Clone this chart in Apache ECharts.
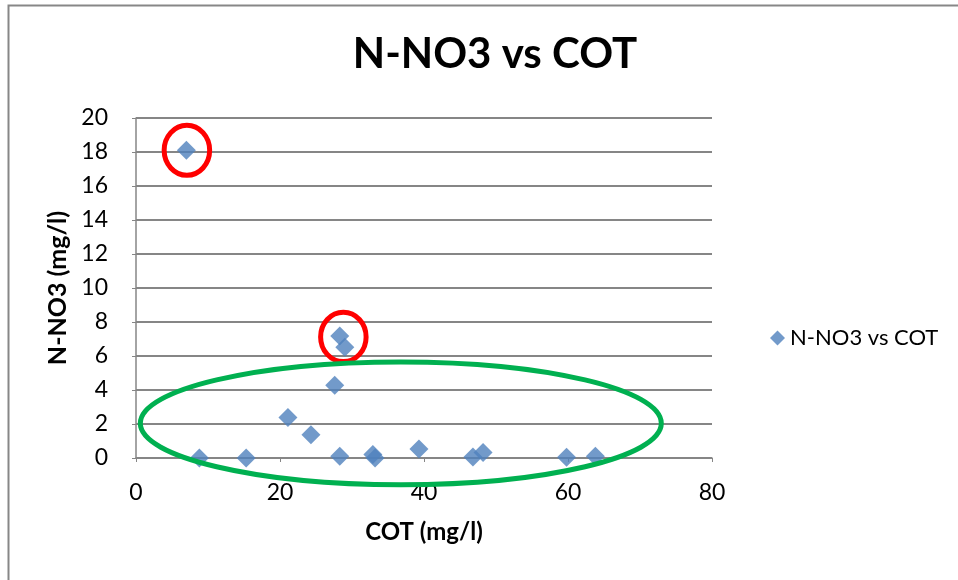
<!DOCTYPE html>
<html>
<head>
<meta charset="utf-8">
<script src="https://cdn.jsdelivr.net/npm/echarts@6/dist/echarts.min.js"></script>
<style>
  html, body { margin: 0; padding: 0; background: #ffffff; }
  #chart { width: 958px; height: 580px; }
</style>
</head>
<body>
<div id="chart"></div>
<script>
// Measurements: COT on x, N-NO3 on y (both mg/l)
const cot  = [7.0, 28.3, 29.0, 27.6, 21.1, 24.3, 8.8, 15.3, 28.3, 32.9, 33.2, 39.3, 46.8, 48.2, 59.8, 63.8];
const nno3 = [18.1, 7.17, 6.52, 4.28, 2.38, 1.37, 0.0, 0.0, 0.1, 0.2, 0.0, 0.53, 0.06, 0.33, 0.04, 0.1];

const seriesName = 'N-NO3 vs COT';
const xTitle = 'COT (mg/l)';
const yTitle = 'N-NO3 (mg/l)';

// Highlight ellipses in data units: centre x, centre y, half-width, half-height
const outlierMarks = [[7.07, 18.1, 3.16, 1.47], [28.8, 7.12, 3.16, 1.45]];
const clusterMark = [36.78, 2.04, 36.18, 3.61];

const FONT = 'Lato';
const gridColor = '#868686';

const chart = echarts.init(document.getElementById('chart'), null, { renderer: 'canvas' });

chart.setOption({
  backgroundColor: '#ffffff',
  animation: false,
  textStyle: { fontFamily: FONT, color: '#000000' },
  title: {
    text: seriesName,
    left: 490, textAlign: 'center',
    top: 28,
    textStyle: { fontFamily: FONT, fontSize: 42, fontWeight: 'bold', color: '#000000' }
  },
  legend: {
    left: 765, top: 322,
    itemWidth: 15, itemHeight: 15, itemGap: 6,
    icon: 'diamond',
    textStyle: { fontFamily: FONT, fontSize: 22, color: '#000000' },
    data: [seriesName]
  },
  grid: { left: 136, right: 246, top: 118, bottom: 122 },
  xAxis: {
    type: 'value', min: 0, max: 80, interval: 20,
    name: xTitle, nameLocation: 'middle', nameGap: 62,
    nameTextStyle: { fontFamily: FONT, fontSize: 24, fontWeight: 'bold', color: '#000000' },
    axisLine: { show: true, onZero: false, lineStyle: { color: gridColor, width: 1.5 } },
    axisTick: { show: true, length: 4, lineStyle: { color: gridColor } },
    axisLabel: { fontFamily: FONT, fontSize: 23, color: '#000000', margin: 23 },
    splitLine: { show: false }
  },
  yAxis: {
    type: 'value', min: 0, max: 20, interval: 2,
    name: yTitle, nameLocation: 'middle', nameGap: 62, nameRotate: 90,
    nameTextStyle: { fontFamily: FONT, fontSize: 25, fontWeight: 'bold', color: '#000000' },
    axisLine: { show: true, lineStyle: { color: gridColor, width: 1.5 } },
    axisTick: { show: true, length: 4, lineStyle: { color: gridColor } },
    axisLabel: { fontFamily: FONT, fontSize: 23, color: '#000000', margin: 28 },
    splitLine: { show: true, lineStyle: { color: gridColor, width: 2 } }
  },
  series: [{
    name: seriesName,
    type: 'scatter',
    symbol: 'diamond',
    symbolSize: 19,
    itemStyle: { color: '#4f81bd' },
    data: cot.map((x, i) => [x, nno3[i]]),
    z: 3
  }]
});

// Ellipses placed through the axes' own scales
function ellipseFrom(mark, color) {
  const [cx, cy, hx, hy] = mark;
  const c = chart.convertToPixel({ gridIndex: 0 }, [cx, cy]);
  const e = chart.convertToPixel({ gridIndex: 0 }, [cx + hx, cy + hy]);
  return {
    type: 'ellipse',
    shape: { cx: c[0], cy: c[1], rx: Math.abs(e[0] - c[0]), ry: Math.abs(c[1] - e[1]) },
    style: { fill: 'none', stroke: color, lineWidth: 5 },
    z: 10
  };
}

chart.setOption({
  graphic: [
    {
      type: 'rect',
      shape: { x: 8.5, y: 5.5, width: 1000, height: 1000 },
      style: { fill: 'none', stroke: '#878787', lineWidth: 2 },
      z: 0, silent: true
    },
    ellipseFrom(outlierMarks[0], '#ff0000'),
    ellipseFrom(outlierMarks[1], '#ff0000'),
    ellipseFrom(clusterMark, '#00b050')
  ]
});
</script>
</body>
</html>
